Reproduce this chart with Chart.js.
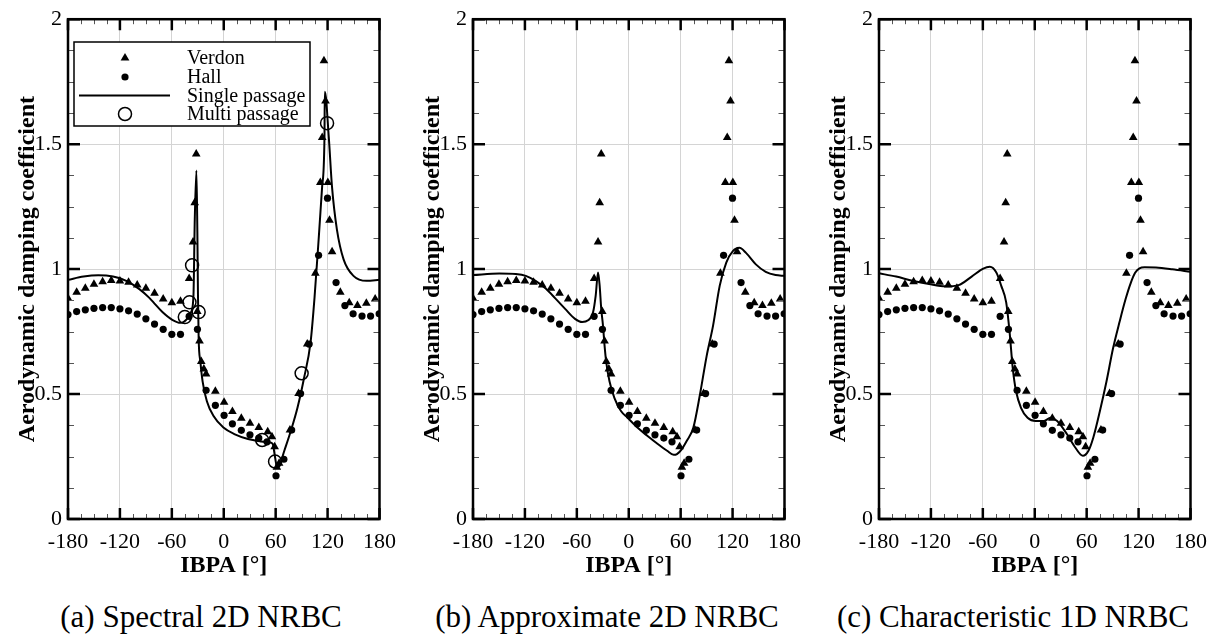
<!DOCTYPE html>
<html>
<head>
<meta charset="utf-8">
<title>Aerodynamic damping vs IBPA</title>
<script src="https://cdn.jsdelivr.net/npm/chart.js@4.4.1/dist/chart.umd.min.js"></script>
<style>
    body { margin: 0; background: #fff; width: 1222px; height: 636px; position: relative; overflow: hidden; }
    canvas { position: absolute; top: 0; }
    .caption {
        position: absolute;
        top: 599px;
        width: 400px;
        text-align: center;
        font-family: 'Liberation Serif', serif;
        font-size: 31px;
        line-height: 36px;
        color: #000;
        white-space: nowrap;
    }
</style>
</head>
<body>
<canvas id="chartA" width="406" height="580" style="left:0px"></canvas>
<canvas id="chartB" width="406" height="580" style="left:405px"></canvas>
<canvas id="chartC" width="406" height="580" style="left:811px"></canvas>
<div class="caption" id="capA" style="left:1px"></div>
<div class="caption" id="capB" style="left:407px"></div>
<div class="caption" id="capC" style="left:813px"></div>

<script>
// ========================================
// DATA
// ========================================
const captions = ['(a) Spectral 2D NRBC', '(b) Approximate 2D NRBC', '(c) Characteristic 1D NRBC'];
const xTicks = [-180, -120, -60, 0, 60, 120, 180];
const yTicks = [0, 0.5, 1, 1.5, 2];
const legendLabels = ['Verdon', 'Hall', 'Single passage', 'Multi passage'];

// Verdon experiment (triangles)
const verdonIbpa = [-180, -170, -160, -150, -140, -130, -120, -110, -100, -90, -80, -70, -60, -50,
    -40, -35.5, -33.6, -31.8, -30.6, -28, -26, -23, -20.4, -9.7, 0.4, 10, 20.3, 30.3, 40.5, 50.8,
    55.7, 58.8, 61.4, 64, 76.5, 86.5, 96.5, 105.9, 111.6, 113.8, 115.8, 117.6, 120.3, 122.2, 125.2,
    134.7, 145, 154.5, 164.8, 175];
const verdonDamping = [0.883, 0.907, 0.923, 0.939, 0.949, 0.954, 0.952, 0.947, 0.936, 0.923, 0.903, 0.88, 0.865, 0.871,
    0.962, 1.108, 1.266, 1.461, 0.83, 0.712, 0.63, 0.60, 0.58, 0.511, 0.467, 0.43, 0.403, 0.383, 0.366, 0.349,
    0.329, 0.289, 0.207, 0.223, 0.356, 0.502, 0.70, 0.983, 1.347, 1.527, 1.834, 1.673, 1.347, 1.195, 1.069,
    0.907, 0.865, 0.854, 0.863, 0.88];

// Hall experiment (dots)
const hallIbpa = [-180, -170, -160, -150, -140, -130, -120, -110, -100, -90, -80, -70, -60, -50,
    -40, -30.4, -20.4, -9.7, 0.4, 10, 20.3, 30.3, 40.5, 50, 60.4, 69.5, 78.5, 88.8, 98.7,
    109.6, 119.9, 129.8, 140, 149.5, 159.8, 169.7, 179.6];
const hallDamping = [0.818, 0.83, 0.837, 0.843, 0.846, 0.846, 0.841, 0.833, 0.82, 0.801, 0.78, 0.759, 0.739, 0.739,
    0.811, 0.759, 0.515, 0.455, 0.415, 0.381, 0.355, 0.337, 0.324, 0.309, 0.173, 0.239, 0.356, 0.502, 0.70,
    1.055, 1.284, 0.946, 0.854, 0.821, 0.812, 0.812, 0.821];

// Single passage, spectral 2D NRBC
const spectralIbpa = [-180, -162, -145, -128, -112.7, -97.5, -86, -80, -70.9, -59.5, -50, -42.4, -37.5, -35,
    -33.5, -31.6, -30.5, -29.8, -29, -27, -24.4, -19.5, -11.8, -0.4, 12.9, 28.1, 43.3, 52.9, 56.6,
    59.3, 61.6, 64.3, 70, 77.5, 85.2, 92.8, 100.4, 105, 109.9, 113.7, 116.4, 116.8, 121.4, 125.1,
    130.8, 138.5, 149.9, 165.1, 180];
const spectralDamping = [0.957, 0.970, 0.975, 0.970, 0.953, 0.92, 0.885, 0.862, 0.828, 0.797, 0.785, 0.801, 0.83, 0.894,
    1.197, 1.395, 1.15, 0.9, 0.722, 0.63, 0.55, 0.471, 0.412, 0.366, 0.339, 0.32, 0.31, 0.306, 0.30,
    0.247, 0.207, 0.214, 0.273, 0.352, 0.445, 0.564, 0.709, 0.89, 1.131, 1.33, 1.527, 1.71, 1.527, 1.33,
    1.158, 1.039, 0.973, 0.953, 0.957];

// Single passage, approximate 2D NRBC
const approxIbpa = [-180, -149.6, -130.6, -119, -107.7, -96.3, -84.9, -73.5, -62.1, -53.8, -47, -41.2, -38.2,
    -35.5, -33.6, -31.8, -29.8, -28, -26.1, -22.2, -16.5, -9, -1.3, 10, 21.4, 32.8, 44.3, 51.9, 55.7,
    61.4, 67.1, 74.7, 82.3, 89.9, 97.5, 105.1, 112.7, 120.3, 127.9, 135.5, 146.9, 158.3, 169.7, 180];
const approxDamping = [0.976, 0.982, 0.98, 0.973, 0.953, 0.923, 0.883, 0.841, 0.801, 0.788, 0.795, 0.828, 0.894,
    0.986, 0.933, 0.841, 0.775, 0.696, 0.63, 0.55, 0.484, 0.432, 0.405, 0.366, 0.333, 0.302, 0.273, 0.257, 0.26,
    0.28, 0.313, 0.366, 0.498, 0.65, 0.775, 0.933, 1.026, 1.072, 1.085, 1.065, 1.019, 0.989, 0.976, 0.973];

// Single passage, characteristic 1D NRBC
const charIbpa = [-180, -160.2, -141.3, -122.2, -103.2, -88, -72.9, -59.5, -51.9, -44.4, -38.7, -33, -29.1,
    -25.4, -21.6, -15.9, -8.3, 1.2, 10.7, 18.3, 25.9, 37.3, 46.8, 55.6, 62.1, 67.7, 75.3, 82.9, 90.5,
    98.1, 105, 111, 116, 121, 127, 140, 158.9, 180];
const charDamping = [0.983, 0.97, 0.953, 0.94, 0.931, 0.936, 0.97, 1.002, 1.009, 0.986, 0.933, 0.867, 0.749,
    0.603, 0.511, 0.445, 0.405, 0.392, 0.392, 0.405, 0.392, 0.339, 0.286, 0.253, 0.273, 0.326, 0.432, 0.55, 0.683,
    0.79, 0.88, 0.945, 0.985, 1.003, 1.007, 1.006, 0.999, 0.989];

// Multi passage (open circles, panel a only)
const multiIbpa = [-45, -39.6, -36.6, -29, 44.4, 59.3, 90, 119.4];
const multiDamping = [0.808, 0.867, 1.015, 0.828, 0.316, 0.23, 0.583, 1.584];

// ========================================
// HELPERS
// ========================================
function toPoints(xs, ys) {
    return xs.map((x, i) => ({ x: x, y: ys[i] }));
}

const SERIF = "'Liberation Serif', 'Times New Roman', serif";

// frame + inward tick marks on all four sides
const frameTicks = {
    id: 'frameTicks',
    afterDatasetsDraw(chart) {
        const { ctx, chartArea: a, scales: { x, y } } = chart;
        ctx.save();
        ctx.lineCap = 'butt';

        // minor ticks
        ctx.strokeStyle = '#555';
        ctx.lineWidth = 1;
        ctx.beginPath();
        for (let v = -165; v < 180; v += 15) {
            if (v % 60 === 0) continue;
            const px = Math.round(x.getPixelForValue(v)) + 0.5;
            ctx.moveTo(px, a.bottom); ctx.lineTo(px, a.bottom - 5);
            ctx.moveTo(px, a.top); ctx.lineTo(px, a.top + 5);
        }
        for (let v = 0.125; v < 2; v += 0.125) {
            if (Math.abs(v * 2 - Math.round(v * 2)) < 1e-6) continue;
            const py = Math.round(y.getPixelForValue(v)) + 0.5;
            ctx.moveTo(a.left, py); ctx.lineTo(a.left + 6, py);
            ctx.moveTo(a.right, py); ctx.lineTo(a.right - 6, py);
        }
        ctx.stroke();

        // major ticks
        ctx.strokeStyle = '#000';
        ctx.lineWidth = 2.5;
        ctx.beginPath();
        xTicks.forEach(v => {
            const px = x.getPixelForValue(v);
            ctx.moveTo(px, a.bottom); ctx.lineTo(px, a.bottom - 11);
            ctx.moveTo(px, a.top); ctx.lineTo(px, a.top + 11);
        });
        yTicks.forEach(v => {
            const py = y.getPixelForValue(v);
            ctx.moveTo(a.left, py); ctx.lineTo(a.left + 12, py);
            ctx.moveTo(a.right, py); ctx.lineTo(a.right - 12, py);
        });
        ctx.stroke();

        // frame
        ctx.lineWidth = 2.5;
        ctx.strokeRect(a.left, a.top, a.right - a.left, a.bottom - a.top);
        ctx.restore();
    }
};

// legend box drawn inside panel (a)
const insideLegend = {
    id: 'insideLegend',
    afterDraw(chart) {
        if (!chart.options.plugins.insideLegend || !chart.options.plugins.insideLegend.show) return;
        const ctx = chart.ctx;
        const bx = 74, by = 42, bw = 236, bh = 84;
        const mx = 125, tx = 187;
        const rows = [58, 77, 95.5, 114];
        ctx.save();
        ctx.fillStyle = '#fff';
        ctx.fillRect(bx, by, bw, bh);
        ctx.strokeStyle = '#000';
        ctx.lineWidth = 1.5;
        ctx.strokeRect(bx, by, bw, bh);

        // triangle
        ctx.fillStyle = '#000';
        ctx.beginPath();
        ctx.moveTo(mx, rows[0] - 5);
        ctx.lineTo(mx + 4.4, rows[0] + 2.6);
        ctx.lineTo(mx - 4.4, rows[0] + 2.6);
        ctx.closePath();
        ctx.fill();
        // dot
        ctx.beginPath();
        ctx.arc(mx, rows[1], 3.6, 0, Math.PI * 2);
        ctx.fill();
        // line
        ctx.lineWidth = 2;
        ctx.beginPath();
        ctx.moveTo(79, rows[2]);
        ctx.lineTo(170, rows[2]);
        ctx.stroke();
        // open circle
        ctx.lineWidth = 1.5;
        ctx.beginPath();
        ctx.arc(mx, rows[3], 6.5, 0, Math.PI * 2);
        ctx.stroke();

        ctx.font = '20px ' + SERIF;
        ctx.textAlign = 'left';
        ctx.textBaseline = 'middle';
        legendLabels.forEach((t, i) => ctx.fillText(t, tx, rows[i] + 1));
        ctx.restore();
    }
};

// ========================================
// BUILD ONE PANEL
// ========================================
function makePanel(canvasId, lineX, lineY, rightPad, withMulti) {
    const datasets = [
        {
            label: 'Single passage',
            data: toPoints(lineX, lineY),
            showLine: true,
            borderColor: '#000',
            borderWidth: 2,
            pointRadius: 0,
            cubicInterpolationMode: 'monotone',
            order: 3
        },
        {
            label: 'Verdon',
            data: toPoints(verdonIbpa, verdonDamping),
            pointStyle: 'triangle',
            pointRadius: 5,
            backgroundColor: '#000',
            borderWidth: 0,
            order: 2
        },
        {
            label: 'Hall',
            data: toPoints(hallIbpa, hallDamping),
            pointStyle: 'circle',
            pointRadius: 3.6,
            backgroundColor: '#000',
            borderWidth: 0,
            order: 1
        }
    ];
    if (withMulti) {
        datasets.push({
            label: 'Multi passage',
            data: toPoints(multiIbpa, multiDamping),
            pointStyle: 'circle',
            pointRadius: 6.5,
            backgroundColor: 'rgba(0,0,0,0)',
            borderColor: '#000',
            borderWidth: 1.5,
            order: 0
        });
    }

    return new Chart(document.getElementById(canvasId), {
        type: 'scatter',
        data: { datasets: datasets },
        options: {
            responsive: false,
            animation: false,
            layout: { padding: { top: 14, right: rightPad, left: 0, bottom: 0 } },
            plugins: {
                legend: { display: false },
                tooltip: { enabled: false },
                insideLegend: { show: withMulti }
            },
            scales: {
                x: {
                    type: 'linear',
                    min: -180,
                    max: 180,
                    afterBuildTicks: s => { s.ticks = xTicks.map(v => ({ value: v })); },
                    afterFit: s => { s.height = 61; },
                    ticks: {
                        color: '#000',
                        padding: 10,
                        maxRotation: 0,
                        font: { family: SERIF, size: 22 }
                    },
                    grid: { color: '#d4d4d4', lineWidth: 1, drawTicks: false },
                    border: { display: false },
                    title: {
                        display: true,
                        text: 'IBPA [°]',
                        color: '#000',
                        padding: { top: 0, bottom: 0 },
                        font: { family: SERIF, size: 24, weight: 'bold' }
                    }
                },
                y: {
                    type: 'linear',
                    min: 0,
                    max: 2,
                    afterBuildTicks: s => { s.ticks = yTicks.map(v => ({ value: v })); },
                    afterFit: s => { s.width = 68; },
                    ticks: {
                        color: '#000',
                        padding: 6,
                        font: { family: SERIF, size: 22 },
                        callback: v => String(v)
                    },
                    grid: { color: '#d4d4d4', lineWidth: 1, drawTicks: false },
                    border: { display: false },
                    title: {
                        display: true,
                        text: 'Aerodynamic damping coefficient',
                        color: '#000',
                        padding: { top: 13, bottom: 0 },
                        font: { family: SERIF, size: 24, weight: 'bold' }
                    }
                }
            }
        },
        plugins: [frameTicks, insideLegend]
    });
}

// ========================================
// DRAW
// ========================================
makePanel('chartA', spectralIbpa, spectralDamping, 23, true);
makePanel('chartB', approxIbpa, approxDamping, 22, false);
makePanel('chartC', charIbpa, charDamping, 22, false);

document.getElementById('capA').textContent = captions[0];
document.getElementById('capB').textContent = captions[1];
document.getElementById('capC').textContent = captions[2];
</script>
</body>
</html>
